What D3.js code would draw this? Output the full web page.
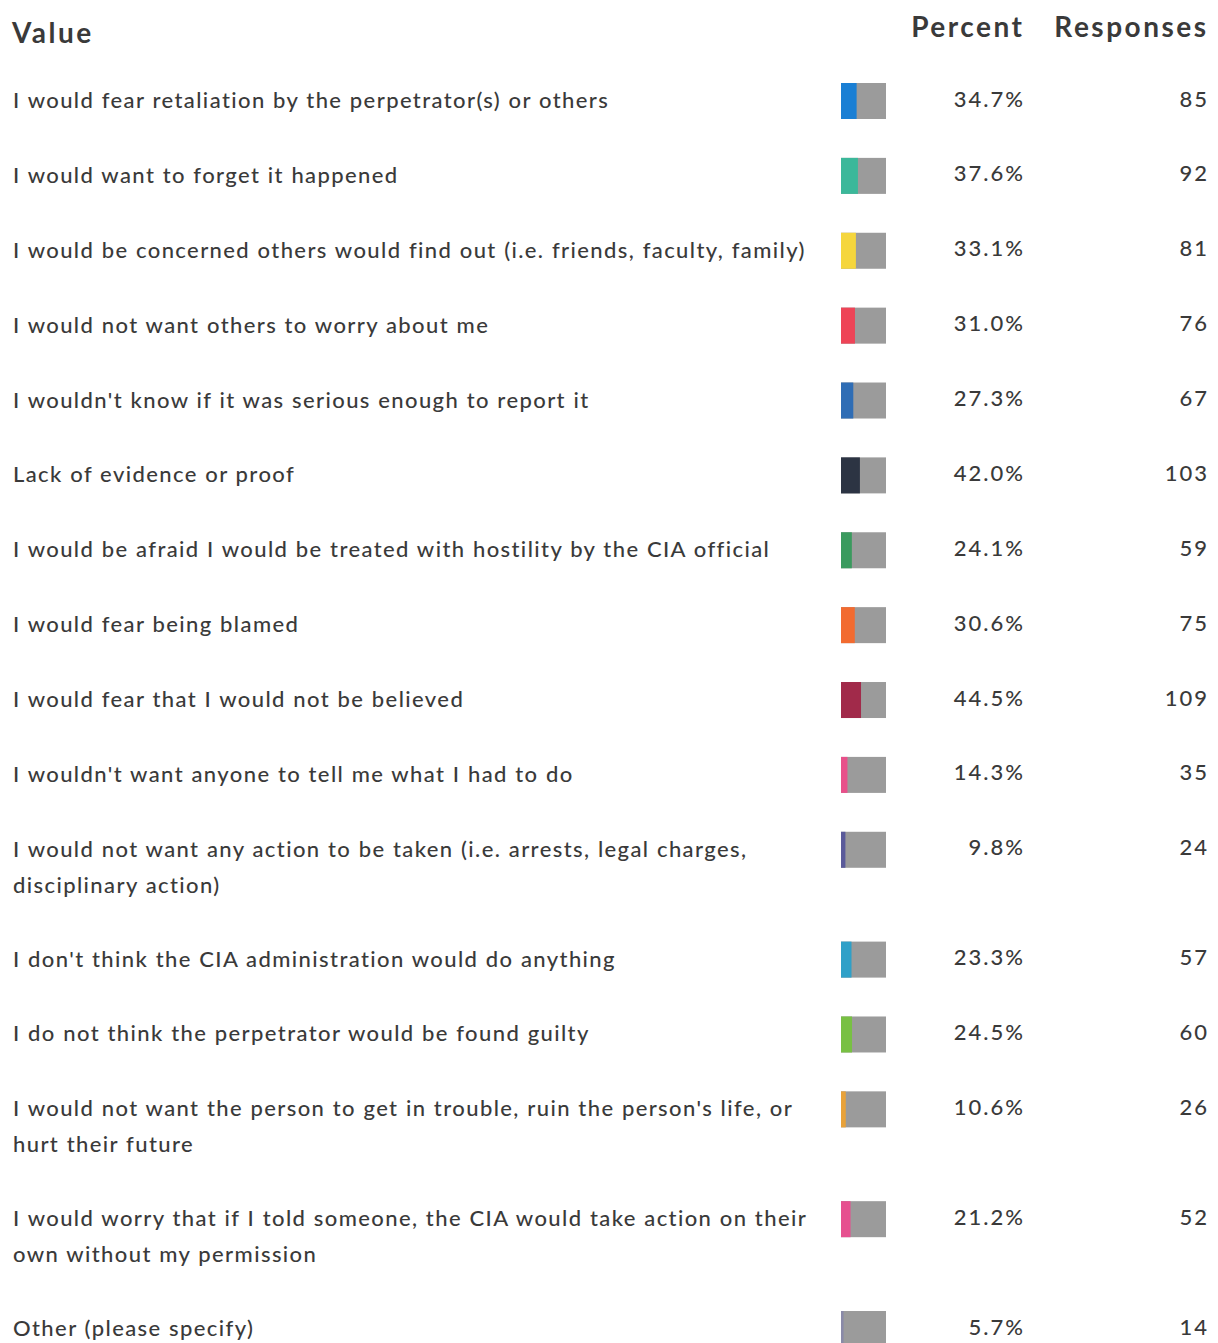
<!DOCTYPE html>
<html>
<head>
<meta charset="utf-8">
<script src="https://cdn.jsdelivr.net/npm/d3@7"></script>
<style>
  body { margin: 0; background: #fff; }
  text { font-family: Lato, "Open Sans", sans-serif; fill: #3a3a3a; }
</style>
</head>
<body>
<div id="chart"></div>
<script>
// answer labels ("|" marks a line break)
var labels = [
  "I would fear retaliation by the perpetrator(s) or others",
  "I would want to forget it happened",
  "I would be concerned others would find out (i.e. friends, faculty, family)",
  "I would not want others to worry about me",
  "I wouldn't know if it was serious enough to report it",
  "Lack of evidence or proof",
  "I would be afraid I would be treated with hostility by the CIA official",
  "I would fear being blamed",
  "I would fear that I would not be believed",
  "I wouldn't want anyone to tell me what I had to do",
  "I would not want any action to be taken (i.e. arrests, legal charges,|disciplinary action)",
  "I don't think the CIA administration would do anything",
  "I do not think the perpetrator would be found guilty",
  "I would not want the person to get in trouble, ruin the person's life, or|hurt their future",
  "I would worry that if I told someone, the CIA would take action on their|own without my permission",
  "Other (please specify)"
];
var percents = [34.7, 37.6, 33.1, 31.0, 27.3, 42.0, 24.1, 30.6, 44.5, 14.3, 9.8, 23.3, 24.5, 10.6, 21.2, 5.7];
var responses = [85, 92, 81, 76, 67, 103, 59, 75, 109, 35, 24, 57, 60, 26, 52, 14];
var barColors = ["#1a7fd4", "#3bb89a", "#f5d63d", "#ee4457", "#2f6db5", "#2c3443", "#3a9a5e", "#f26b30",
                 "#a12a4a", "#e8508a", "#5a5a9a", "#2fa0c8", "#78c043", "#e8a23a", "#e6508f", "#8a8aa8"];
var headers = ["Value", "Percent", "Responses"];

function init(){
  var W = 1218, H = 1343;

  var svg = d3.select("#chart").append("svg")
    .attr("width", W)
    .attr("height", H);

  // row positions: single line rows step 75px, each extra line adds 35px
  var lines = labels.map(function(d){ return d.split("|"); });
  var tops = [];
  var acc = 0;
  lines.forEach(function(l){ tops.push(acc); acc += 75 + 35 * (l.length - 1); });
  var y = d3.scaleLinear().domain([0, tops[tops.length - 1]]).range([101, 1329]);

  // bar width scale (percent of a 45px cell)
  var barX = 841, barW = 45, barH = 36;
  var x = d3.scaleLinear().domain([0, 100]).range([0, barW]);

  // headers (letter-spacing adds a trailing gap, so end-anchored ones move right by it)
  var hls = 2.5;
  function header(txt, xx, yy, anchor){
    svg.append("text").attr("x", xx).attr("y", yy)
      .attr("text-anchor", anchor).attr("dominant-baseline", "middle")
      .style("font-size", "28px").style("font-weight", "bold")
      .style("letter-spacing", hls + "px")
      .text(txt);
  }
  header(headers[0], 12, 36, "start");
  header(headers[1], 1022 + hls, 30, "end");
  header(headers[2], 1206 + hls, 30, "end");

  var rows = svg.selectAll("g.row")
    .data(labels)
    .enter().append("g")
      .attr("class", "row")
      .attr("transform", function(d, i){ return "translate(0," + y(tops[i]) + ")"; });

  // label text, one tspan per line
  rows.append("text")
    .attr("x", 13)
    .attr("y", 0)
    .attr("dominant-baseline", "middle")
    .style("font-size", "22px")
    .style("font-weight", "500")
    .style("letter-spacing", "1.4px")
    .style("word-spacing", "0.5px")
    .selectAll("tspan")
    .data(function(d, i){ return lines[i]; })
    .enter().append("tspan")
      .attr("x", 13)
      .attr("y", function(d, j){ return 1 + j * 36; })
      .text(function(d){ return d; });

  // grey background bar
  rows.append("rect")
    .attr("x", barX)
    .attr("y", -barH / 2)
    .attr("width", x(100))
    .attr("height", barH)
    .attr("fill", "#9b9b9b");

  // coloured share
  rows.append("rect")
    .attr("x", barX)
    .attr("y", -barH / 2)
    .attr("width", function(d, i){ return x(percents[i]); })
    .attr("height", barH)
    .attr("fill", function(d, i){ return barColors[i]; });

  var nls = 2;
  rows.append("text")
    .attr("x", 1023 + nls)
    .attr("y", 0)
    .attr("text-anchor", "end")
    .attr("dominant-baseline", "middle")
    .style("font-size", "22px")
    .style("font-weight", "500")
    .style("letter-spacing", nls + "px")
    .text(function(d, i){ return percents[i].toFixed(1) + "%"; });

  rows.append("text")
    .attr("x", 1207 + nls)
    .attr("y", 0)
    .attr("text-anchor", "end")
    .attr("dominant-baseline", "middle")
    .style("font-size", "22px")
    .style("font-weight", "500")
    .style("letter-spacing", nls + "px")
    .text(function(d, i){ return responses[i]; });
}
window.onload = init;
</script>
</body>
</html>
